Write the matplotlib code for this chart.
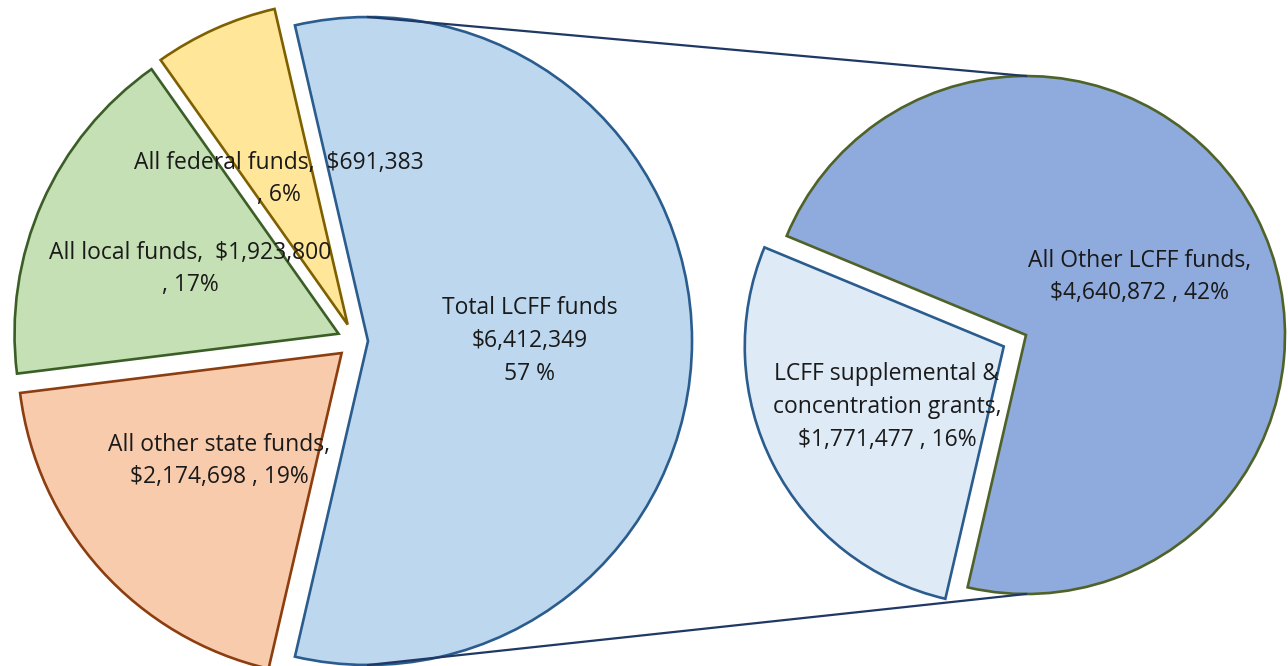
import matplotlib
matplotlib.use("Agg")
import matplotlib.pyplot as plt

# main pie
main_labels = ["Total LCFF funds", "All federal funds", "All local funds", "All other state funds"]
main_values = [6412349, 691383, 1923800, 2174698]
main_pcts = ["57 %", "6%", "17%", "19%"]
main_colors = ["#BDD7EE", "#FFE699", "#C5E0B4", "#F8CBAD"]
main_edges = ["#2A5C8E", "#7F6000", "#3B5E27", "#8C3E10"]

# breakdown of the LCFF slice
sub_labels = ["All Other LCFF funds", "LCFF supplemental &\nconcentration grants"]
sub_values = [4640872, 1771477]
sub_pcts = ["42%", "16%"]
sub_colors = ["#8FAADC", "#DEEBF7"]
sub_edges = ["#4F6228", "#2A5C8E"]

W, H = 1288, 666
fig = plt.figure(figsize=(W / 100, H / 100), dpi=100)
ax = fig.add_axes([0, 0, 1, 1])

total = sum(main_values)
start = -180 * main_values[0] / total

# pixel-space layout (explode is an absolute offset here)
c1, r1 = (355, H - 341), 324
c2, r2 = (1026, H - 335), 259
ex1 = [13, 18, 18, 18]
ex2 = [0, 25]

w1, _ = ax.pie(main_values, colors=main_colors, startangle=start, counterclock=True,
               center=c1, radius=r1, explode=ex1,
               wedgeprops=dict(linewidth=1.9, joinstyle="miter"))
for w, ec in zip(w1, main_edges):
    w.set_edgecolor(ec)

w2, _ = ax.pie(sub_values, colors=sub_colors, startangle=start, counterclock=True,
               center=c2, radius=r2, explode=ex2,
               wedgeprops=dict(linewidth=1.9, joinstyle="miter"))
for w, ec in zip(w2, sub_edges):
    w.set_edgecolor(ec)

# connector lines from LCFF slice to secondary pie
lx = c1[0] + ex1[0]
ax.plot([lx, c2[0]], [c1[1] + r1, c2[1] + r2], color="#1F3864", lw=1.6, zorder=3)
ax.plot([lx, c2[0]], [c1[1] - r1, c2[1] - r2], color="#1F3864", lw=1.6, zorder=3)

ax.set_xlim(0, W)
ax.set_ylim(0, H)
ax.set_aspect("equal")
ax.axis("off")

def money(v):
    return f"${v:,}"

tkw = dict(ha="center", va="center", fontsize=16.5, family=["Open Sans", "DejaVu Sans"],
           color="#1a1a1a", linespacing=1.5, zorder=5)

ax.text(530, H - 341, f"{main_labels[0]}\n{money(main_values[0])}\n{main_pcts[0]}", **tkw)
ax.text(279, H - 179, f"{main_labels[1]},  {money(main_values[1])}\n, {main_pcts[1]}", **tkw)
ax.text(190, H - 269, f"{main_labels[2]},  {money(main_values[2])}\n, {main_pcts[2]}", **tkw)
ax.text(219, H - 461, f"{main_labels[3]},\n{money(main_values[3])} , {main_pcts[3]}", **tkw)
ax.text(1140, H - 277, f"{sub_labels[0]},\n{money(sub_values[0])} , {sub_pcts[0]}", **tkw)
ax.text(887, H - 407, f"{sub_labels[1]},\n{money(sub_values[1])} , {sub_pcts[1]}", **tkw)

fig.savefig("out.png", dpi=100)
